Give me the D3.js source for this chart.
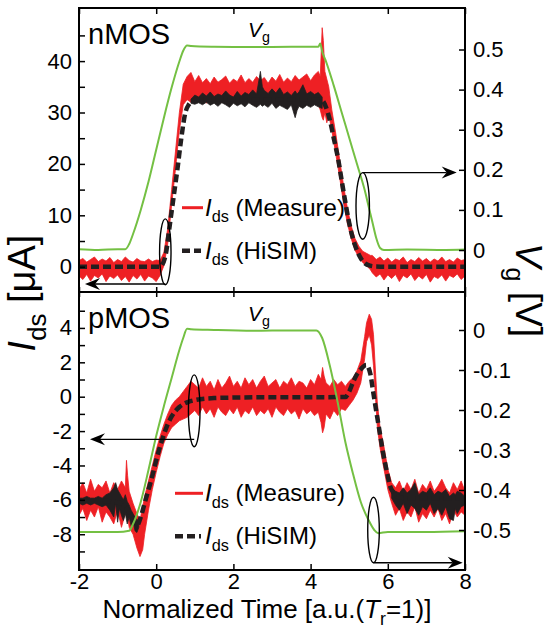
<!DOCTYPE html>
<html lang="en">
<head>
<meta charset="UTF-8">
<title>nMOS / pMOS transient: measurement vs HiSIM</title>
<script src="https://cdn.jsdelivr.net/npm/d3@7"></script>
<style>
    body { margin: 0; background: #fff; }
    svg { font-family: Arial, "Liberation Sans", sans-serif; }
</style>
</head>
<body>
<svg id="chart" width="550" height="629"></svg>
<script>
// ---------- data ----------
const xTicks = [-2, 0, 2, 4, 6, 8];
const nLeftTicks = [0, 10, 20, 30, 40];
const nLeftMinor = [5, 15, 25, 35, 45];
const nRightTicks = [0, 0.1, 0.2, 0.3, 0.4, 0.5];
const pLeftTicks = [-8, -6, -4, -2, 0, 2, 4];
const pLeftMinor = [-9, -7, -5, -3, -1, 1, 3, 5];
const pRightTicks = [-0.5, -0.4, -0.3, -0.2, -0.1, 0];

// gate voltage [t, V]
const nVg = [[-2,0.002],[-1.5,0],[-1,0.002],[-0.8,0.002],[-0.7,0.015],[-0.6,0.04],[-0.4,0.1],[-0.2,0.17],[0,0.25],[0.2,0.33],[0.4,0.405],[0.6,0.47],[0.7,0.497],[0.8,0.51],[0.9,0.509],[1.5,0.507],[2.5,0.506],[3.5,0.507],[4.2,0.507],[4.25,0.515],[4.3,0.495],[4.4,0.47],[4.6,0.41],[4.8,0.345],[5.0,0.28],[5.2,0.215],[5.4,0.15],[5.5,0.11],[5.6,0.07],[5.7,0.03],[5.8,0.005],[5.9,0],[6.5,0.001],[7.5,0],[8,0.001]];
const pVg = [[-2,-0.505],[-1,-0.505],[-0.7,-0.502],[-0.6,-0.485],[-0.4,-0.43],[-0.2,-0.35],[0,-0.265],[0.2,-0.19],[0.4,-0.12],[0.6,-0.05],[0.7,-0.02],[0.8,0.003],[0.9,0.002],[1.5,0],[2.5,-0.002],[3.5,-0.001],[4.15,-0.001],[4.3,-0.02],[4.5,-0.09],[4.7,-0.18],[4.9,-0.28],[5.1,-0.36],[5.3,-0.43],[5.5,-0.475],[5.65,-0.5],[5.75,-0.508],[6,-0.505],[7,-0.505],[8,-0.503]];

// measured Ids, noisy band [t, low, high] in uA
const nMeas = [[-2.0,-1.8,1.2],[-1.9,-2.5,1.6],[-1.8,-1.5,0.9],[-1.7,-2.8,1.4],[-1.6,-1.7,1.9],[-1.5,-2.2,1.0],[-1.4,-1.4,1.5],[-1.3,-2.9,1.1],[-1.2,-1.8,1.8],[-1.1,-2.3,0.8],[-1.0,-1.6,1.4],[-0.9,-2.7,1.0],[-0.8,-1.9,1.9],[-0.7,-3.0,1.2],[-0.6,-1.7,0.9],[-0.5,-2.4,1.6],[-0.4,-1.5,1.1],[-0.3,-2.8,1.0],[-0.2,-1.8,1.5],[-0.1,-2.2,1.0],[0.0,-2.9,1.3],[0.1,-1.7,1.2],
  [0.2,0.2,2.8],[0.3,4.5,7.5],[0.4,12.0,15.0],[0.5,19.0,22.5],[0.6,26.5,30.0],[0.7,31.5,35.5],[0.8,32.5,37.0],
  [0.9,32.0,37.8],[1.0,33.2,36.0],[1.1,32.4,37.2],[1.2,33.0,35.8],[1.3,31.8,36.6],[1.4,32.9,35.6],[1.5,32.2,36.9],[1.6,33.1,35.9],[1.7,31.9,36.4],[1.8,32.8,37.1],[1.9,32.3,35.7],[2.0,33.0,36.5],[2.1,31.7,36.0],[2.2,32.6,37.3],[2.3,32.1,35.8],[2.4,33.0,36.6],[2.5,32.2,35.9],[2.6,31.9,37.0],[2.7,32.7,36.2],[2.8,32.0,36.8],[2.9,33.1,35.7],[3.0,32.3,36.9],[3.1,31.6,36.1],[3.2,32.8,37.4],[3.3,32.0,35.9],[3.4,32.9,36.7],[3.5,31.8,36.0],[3.6,32.5,37.2],[3.7,32.1,36.3],[3.8,32.9,36.9],[3.9,31.9,37.5],[4.0,32.6,36.2],[4.1,32.0,37.3],[4.2,31.5,38.0],
  [4.25,30.5,37.0],[4.30,29.0,46.5],[4.33,28.5,44.0],[4.37,30.0,38.0],[4.42,28.0,36.5],[4.47,29.5,35.0],
  [4.55,26.5,30.5],[4.65,22.0,26.0],[4.75,17.5,21.0],[4.85,12.5,16.0],[4.95,8.5,11.5],[5.05,5.5,8.0],[5.15,3.2,5.5],[5.25,1.8,4.0],[5.35,0.8,3.0],[5.45,0.2,2.6],[5.55,-0.6,2.2],
  [5.6,-1.2,2.2],[5.7,-2.0,1.4],[5.8,-1.4,1.9],[5.9,-2.6,1.1],[6.0,-1.6,1.7],[6.1,-2.3,0.9],[6.2,-1.5,1.5],[6.3,-2.9,1.2],[6.4,-1.7,1.9],[6.5,-2.2,0.8],[6.6,-1.4,1.4],[6.7,-2.7,1.0],[6.8,-1.8,1.8],[6.9,-2.4,1.1],[7.0,-1.5,1.6],[7.1,-3.0,0.9],[7.2,-1.9,1.5],[7.3,-2.3,1.1],[7.4,-1.6,1.9],[7.5,-2.8,1.0],[7.6,-1.7,1.4],[7.7,-2.1,0.9],[7.8,-1.4,1.7],[7.9,-2.5,1.2],[8.0,-1.8,1.4]];

const pMeas = [[-2.0,-6.9,-5.4],[-1.9,-6.5,-5.0],[-1.8,-7.2,-5.6],[-1.7,-6.6,-4.8],[-1.6,-7.0,-5.5],[-1.5,-6.4,-5.1],[-1.4,-7.3,-5.3],[-1.3,-6.7,-4.9],[-1.2,-7.0,-5.6],[-1.1,-7.4,-5.0],[-1.0,-6.6,-5.4],[-0.9,-7.6,-4.9],[-0.8,-6.8,-5.3],[-0.77,-6.5,-3.7],[-0.74,-7.0,-4.6],[-0.7,-7.6,-5.5],[-0.6,-8.0,-6.2],[-0.5,-8.8,-6.8],[-0.42,-9.3,-7.2],[-0.35,-8.9,-6.4],[-0.3,-8.0,-5.8],[-0.2,-6.6,-4.9],[-0.1,-5.4,-4.0],[0.0,-4.4,-3.1],[0.1,-3.5,-2.3],[0.2,-2.7,-1.6],[0.3,-2.2,-1.0],[0.4,-1.8,-0.5],[0.5,-1.6,-0.2],[0.6,-1.4,0.0],[0.7,-1.3,0.3],[0.8,-1.2,0.6],[0.9,-1.0,0.9],
  [1.0,-0.8,0.7],[1.1,-1.1,0.5],[1.2,-0.6,1.1],[1.3,-1.0,0.6],[1.4,-0.7,0.9],[1.5,-1.2,0.4],[1.6,-0.6,1.0],[1.7,-0.9,0.5],[1.8,-1.1,0.8],[1.9,-0.7,1.2],[2.0,-1.0,0.6],[2.1,-0.6,0.9],[2.2,-1.2,0.5],[2.3,-0.8,1.1],[2.4,-1.0,0.7],[2.5,-0.6,1.0],[2.6,-1.1,0.5],[2.7,-0.8,0.9],[2.8,-1.0,1.2],[2.9,-0.7,0.6],[3.0,-1.2,0.8],[3.1,-0.6,1.0],[3.2,-0.9,0.5],[3.3,-1.1,0.9],[3.4,-0.7,0.7],[3.5,-1.0,1.1],[3.6,-0.8,0.6],[3.7,-1.3,0.9],[3.8,-0.7,0.8],[3.9,-1.0,0.5],[4.0,-0.8,1.0],[4.1,-1.1,0.7],[4.2,-0.9,1.3],
  [4.27,-1.5,1.0],[4.31,-2.1,1.7],[4.35,-1.8,1.2],[4.4,-1.0,0.8],[4.5,-1.3,0.6],[4.6,-0.8,1.0],[4.7,-1.1,0.7],[4.8,-0.7,0.9],[4.9,-0.8,0.6],[5.0,-0.5,0.9],[5.1,-0.2,1.1],[5.2,0.2,1.5],[5.3,0.8,2.1],[5.4,2.2,3.5],[5.45,3.2,4.3],[5.52,3.6,4.8],[5.58,3.0,4.5],[5.63,1.8,3.6],[5.68,0.0,1.5],[5.73,-1.8,-0.4],[5.8,-3.0,-1.8],[5.9,-4.2,-2.9],[6.0,-5.4,-4.2],[6.1,-6.2,-5.0],
  [6.2,-6.9,-5.3],[6.3,-6.5,-4.9],[6.4,-7.2,-5.5],[6.5,-6.7,-5.0],[6.6,-7.0,-5.4],[6.7,-6.4,-4.8],[6.8,-7.3,-5.6],[6.9,-6.8,-5.1],[7.0,-7.1,-5.4],[7.1,-6.6,-4.9],[7.2,-7.0,-5.5],[7.3,-6.5,-5.2],[7.4,-7.2,-4.8],[7.5,-6.8,-5.3],[7.6,-7.4,-5.6],[7.7,-6.6,-5.0],[7.8,-7.0,-5.4],[7.9,-6.7,-4.9],[8.0,-6.9,-5.5]];

// HiSIM, noisy part [t, low, high]
const nSimNoise = [[0.9,31.8,32.6],[1.0,31.6,33.4],[1.1,31.9,33.0],[1.2,31.5,33.8],[1.3,32.0,33.2],[1.4,31.4,34.0],[1.5,31.8,33.1],[1.6,31.2,33.6],[1.7,31.9,33.3],[1.8,31.5,34.2],[1.9,31.0,33.4],[2.0,31.8,33.0],[2.1,31.3,34.1],[2.2,31.7,33.2],[2.3,31.1,33.9],[2.4,31.9,33.5],[2.5,31.4,34.4],[2.6,31.0,33.6],[2.7,31.6,38.0],[2.75,31.2,35.0],[2.8,31.5,34.3],[2.9,31.0,33.7],[3.0,31.8,34.6],[3.1,30.8,33.8],[3.2,31.4,34.8],[3.3,31.0,33.5],[3.4,30.6,34.0],[3.5,31.5,33.3],[3.6,29.0,34.2],[3.65,30.4,33.6],[3.7,31.2,34.0],[3.8,30.8,35.4],[3.9,31.4,33.6],[4.0,31.0,34.1],[4.1,31.5,33.5],[4.2,31.1,33.9],[4.3,30.8,33.0]];
const pSimNoiseL = [[-2.0,-6.2,-5.9],[-1.9,-6.3,-5.9],[-1.8,-6.2,-5.8],[-1.7,-6.3,-5.9],[-1.6,-6.2,-5.9],[-1.5,-6.3,-5.8],[-1.4,-6.4,-5.9],[-1.3,-6.3,-5.7],[-1.2,-6.6,-5.6],[-1.1,-7.0,-5.3],[-1.05,-6.2,-5.0],[-1.0,-7.3,-5.4],[-0.95,-6.5,-5.6],[-0.9,-6.9,-5.8],[-0.85,-7.2,-6.0],[-0.8,-6.8,-5.7],[-0.75,-7.4,-6.1],[-0.7,-7.0,-6.3],[-0.65,-7.5,-6.6],[-0.6,-7.2,-6.8],[-0.55,-7.8,-7.0],[-0.5,-7.9,-7.2],[-0.45,-7.6,-7.1]];
const pSimNoiseR = [[6.1,-5.9,-5.3],[6.2,-6.3,-5.5],[6.3,-6.6,-5.6],[6.4,-6.2,-5.3],[6.5,-6.8,-5.6],[6.6,-6.3,-5.4],[6.7,-6.5,-5.0],[6.8,-6.9,-5.7],[6.9,-6.4,-5.5],[7.0,-6.6,-5.6],[7.1,-6.2,-5.3],[7.2,-6.8,-5.7],[7.3,-6.5,-5.5],[7.4,-6.9,-5.6],[7.5,-6.4,-5.4],[7.6,-7.1,-5.8],[7.7,-7.2,-5.6],[7.75,-6.5,-5.7],[7.8,-6.8,-5.5],[7.9,-6.4,-5.6],[8.0,-6.3,-5.8]];

// HiSIM, smooth [t, uA]
const nSim = [[-2,0],[0.1,0],[0.15,0.3],[0.25,2.5],[0.35,8],[0.45,13.5],[0.55,19],[0.65,25],[0.75,29.8],[0.85,31.6],[0.95,32.3],[1.1,32.6],[2,32.6],[3,32.5],[4,32.6],[4.3,32.3],[4.4,31],[4.5,28.5],[4.6,25],[4.72,20.7],[4.8,17],[4.89,13],[5,8.5],[5.06,6.5],[5.15,4.2],[5.28,1.9],[5.4,0.7],[5.54,0.2],[5.7,0.05],[6,0],[8,0]];
const pSim = [[-2,-6.05],[-1.5,-6.05],[-1.0,-6.15],[-0.8,-6.4],[-0.65,-6.9],[-0.5,-7.5],[-0.4,-7.0],[-0.3,-6.2],[-0.2,-5.4],[-0.1,-4.6],[0,-3.7],[0.1,-2.9],[0.2,-2.2],[0.3,-1.6],[0.4,-1.15],[0.6,-0.6],[0.8,-0.33],[1,-0.2],[1.5,-0.08],[2,-0.05],[3,-0.03],[4,-0.03],[4.9,-0.02],[5,0.3],[5.1,0.85],[5.2,1.3],[5.3,1.6],[5.44,1.85],[5.55,1.3],[5.62,0.3],[5.71,-0.97],[5.8,-2.2],[5.88,-3.3],[5.97,-4.3],[6.06,-5.2],[6.15,-5.6],[6.23,-5.8],[6.5,-5.9],[8,-5.9]];

// ellipse + arrow markers: [t, value, half-width t, half-height value, arrow value, arrow tip t]
const nMarkL = [0.236, 2.9, 0.148, 6.4, -3.37, -1.845];
const nMarkR = [5.35, 0.11, 0.174, 0.083, 0.193, 7.785];
const pMarkL = [0.985, -0.82, 0.15, 2.09, -2.48, -1.715];
const pMarkR = [5.63, -0.5, 0.15, 0.082, -0.582, 7.94];

// ---------- layout ----------
const RED = "#ee2024", BLACK = "#231f20", GREEN = "#74c043";
const left = 79, right = 465;
const svg = d3.select("#chart");
const x = d3.scaleLinear().domain([-2, 8]).range([left, right]);

const panels = [
    { name: "nMOS", top: 8, bottom: 292,
      yL: d3.scaleLinear().domain([-4.92, 50.33]).range([292, 8]),
      yR: d3.scaleLinear().domain([-0.1047, 0.6035]).range([292, 8]),
      lt: nLeftTicks, lm: nLeftMinor, rt: nRightTicks,
      vg: nVg, meas: nMeas, noise: [nSimNoise], sim: nSim,
      marks: [[nMarkL, "L"], [nMarkR, "R"]], legY: 207.7, legX: 182 },
    { name: "pMOS", top: 292, bottom: 570,
      yL: d3.scaleLinear().domain([-10.08, 6.09]).range([570, 292]),
      yR: d3.scaleLinear().domain([-0.6, 0.095]).range([570, 292]),
      lt: pLeftTicks, lm: pLeftMinor, rt: pRightTicks,
      vg: pVg, meas: pMeas, noise: [pSimNoiseL, pSimNoiseR], sim: pSim,
      marks: [[pMarkL, "L"], [pMarkR, "R"]], legY: 493.3, legX: 175 }
];

// text with italic / subscript pieces
function rich(text, parts, size) {
    let shift = 0;
    parts.forEach(p => {
        const ts = text.append("tspan").text(p.t);
        if (p.it) ts.attr("font-style", "italic");
        const target = p.sub ? size * 0.28 : 0;
        if (target !== shift) { ts.attr("dy", target - shift); shift = target; }
        if (p.sub) ts.attr("font-size", size * 0.68);
    });
}

function arrowHead(g, tipX, tipY, dir) {
    const L = 15, Wd = 6, N = 10;
    g.append("path")
        .attr("d", `M${tipX},${tipY} L${tipX - dir * L},${tipY - Wd} L${tipX - dir * N},${tipY} L${tipX - dir * L},${tipY + Wd} Z`)
        .attr("fill", "#000");
}

panels.forEach((P, i) => {
    const g = svg.append("g");
    const clipId = "clip" + i;
    svg.append("clipPath").attr("id", clipId).append("rect")
        .attr("x", left).attr("y", P.top).attr("width", right - left).attr("height", P.bottom - P.top);
    const plot = g.append("g").attr("clip-path", `url(#${clipId})`);

    // measured band
    plot.append("path").datum(P.meas)
        .attr("d", d3.area().x(d => x(d[0])).y0(d => P.yL(d[1])).y1(d => P.yL(d[2])))
        .attr("fill", RED).attr("stroke", RED).attr("stroke-width", 0.8);

    // HiSIM noisy part
    P.noise.forEach(arr => {
        plot.append("path").datum(arr)
            .attr("d", d3.area().x(d => x(d[0])).y0(d => P.yL(d[1])).y1(d => P.yL(d[2])))
            .attr("fill", BLACK).attr("stroke", BLACK).attr("stroke-width", 0.8);
    });

    // HiSIM dashed
    plot.append("path").datum(P.sim)
        .attr("d", d3.line().x(d => x(d[0])).y(d => P.yL(d[1])).curve(d3.curveMonotoneX))
        .attr("fill", "none").attr("stroke", BLACK).attr("stroke-width", 4.5)
        .attr("stroke-dasharray", "8,4");

    // Vg
    plot.append("path").datum(P.vg)
        .attr("d", d3.line().x(d => x(d[0])).y(d => P.yR(d[1])).curve(d3.curveMonotoneX))
        .attr("fill", "none").attr("stroke", GREEN).attr("stroke-width", 2);

    // ellipses and arrows
    P.marks.forEach(([m, side]) => {
        const y = side === "L" ? P.yL : P.yR;
        const cx = x(m[0]), cy = y(m[1]);
        const rx = x(m[0] + m[2]) - cx, ry = cy - y(m[1] + m[3]);
        g.append("ellipse").attr("cx", cx).attr("cy", cy).attr("rx", rx).attr("ry", ry)
            .attr("fill", "none").attr("stroke", "#000").attr("stroke-width", 1.4);
        const ay = y(m[4]), tip = x(m[5]);
        const dir = tip > cx ? 1 : -1;
        g.append("line").attr("x1", cx).attr("x2", tip - dir * 10).attr("y1", ay).attr("y2", ay)
            .attr("stroke", "#000").attr("stroke-width", 1.4);
        arrowHead(g, tip, ay, dir);
    });

    // axes
    const fmt = d => String(d);
    g.append("g").attr("transform", `translate(${left},0)`)
        .call(d3.axisLeft(P.yL).tickValues(P.lt).tickSize(-6).tickPadding(7).tickFormat(fmt));
    g.append("g").attr("transform", `translate(${left},0)`)
        .call(d3.axisLeft(P.yL).tickValues(P.lm).tickSize(-6).tickFormat(""));
    g.append("g").attr("transform", `translate(${right},0)`)
        .call(d3.axisRight(P.yR).tickValues(P.rt).tickSize(-6).tickPadding(8).tickFormat(fmt));
    g.selectAll(".domain").remove();
    g.selectAll(".tick line").attr("stroke", "#000").attr("stroke-width", 1.5);
    g.selectAll(".tick text").attr("font-size", 22).attr("fill", "#000")
        .attr("font-family", "Arial, 'Liberation Sans', sans-serif");

    // panel labels
    g.append("text").attr("x", 88).attr("y", P.top + 36).attr("font-size", 29).text(P.name);
    const vt = g.append("text").attr("x", 248).attr("y", P.top + 28.5).attr("font-size", 21);
    rich(vt, [{ t: "V", it: true }, { t: "g", sub: true }], 21);

    // legend
    const lx = P.legX;
    g.append("line").attr("x1", lx).attr("x2", 203).attr("y1", P.legY).attr("y2", P.legY)
        .attr("stroke", RED).attr("stroke-width", 3);
    g.append("line").attr("x1", lx).attr("x2", 201).attr("y1", P.legY + 43).attr("y2", P.legY + 43)
        .attr("stroke", BLACK).attr("stroke-width", 4.5).attr("stroke-dasharray", "8,4");
    const l1 = g.append("text").attr("x", 205).attr("y", P.legY + 8).attr("font-size", 24);
    rich(l1, [{ t: "I", it: true }, { t: "ds", sub: true }, { t: " (Measure)" }], 24);
    const l2 = g.append("text").attr("x", 205).attr("y", P.legY + 51).attr("font-size", 24);
    rich(l2, [{ t: "I", it: true }, { t: "ds", sub: true }, { t: " (HiSIM)" }], 24);

    // frame
    g.append("rect").attr("x", left).attr("y", P.top).attr("width", right - left).attr("height", P.bottom - P.top)
        .attr("fill", "none").attr("stroke", "#000").attr("stroke-width", 2);
});

// x ticks: top edge, divider (both sides), bottom with labels
const xt = svg.append("g");
xt.append("g").attr("transform", "translate(0,8)").call(d3.axisTop(x).tickValues(xTicks).tickSize(-6).tickFormat(""));
xt.append("g").attr("transform", "translate(0,292)").call(d3.axisTop(x).tickValues(xTicks).tickSize(5).tickFormat(""));
xt.append("g").attr("transform", "translate(0,292)").call(d3.axisBottom(x).tickValues(xTicks).tickSize(5).tickFormat(""));
xt.append("g").attr("transform", "translate(0,570)")
    .call(d3.axisBottom(x).tickValues(xTicks).tickSize(-6).tickPadding(3).tickFormat(d => String(d)));
xt.selectAll(".domain").remove();
xt.selectAll(".tick line").attr("stroke", "#000").attr("stroke-width", 1.5);
xt.selectAll(".tick text").attr("font-size", 22).attr("fill", "#000")
    .attr("font-family", "Arial, 'Liberation Sans', sans-serif");

// axis titles
const yt = svg.append("text").attr("transform", "translate(35,293) rotate(-90)")
    .attr("text-anchor", "middle").attr("font-size", 38);
rich(yt, [{ t: "I", it: true }, { t: "ds", sub: true }, { t: " [\u03bcA]" }], 38);
const rt = svg.append("text").attr("transform", "translate(516,290) rotate(90)")
    .attr("text-anchor", "middle").attr("font-size", 37);
rich(rt, [{ t: "V", it: true }, { t: "g", sub: true }, { t: " [V]" }], 37);
const xtTitle = svg.append("text").attr("x", 267).attr("y", 618)
    .attr("text-anchor", "middle").attr("font-size", 26);
rich(xtTitle, [{ t: "Normalized Time [a.u.(" }, { t: "T", it: true }, { t: "r", sub: true }, { t: "=1)]" }], 26);
</script>
</body>
</html>
